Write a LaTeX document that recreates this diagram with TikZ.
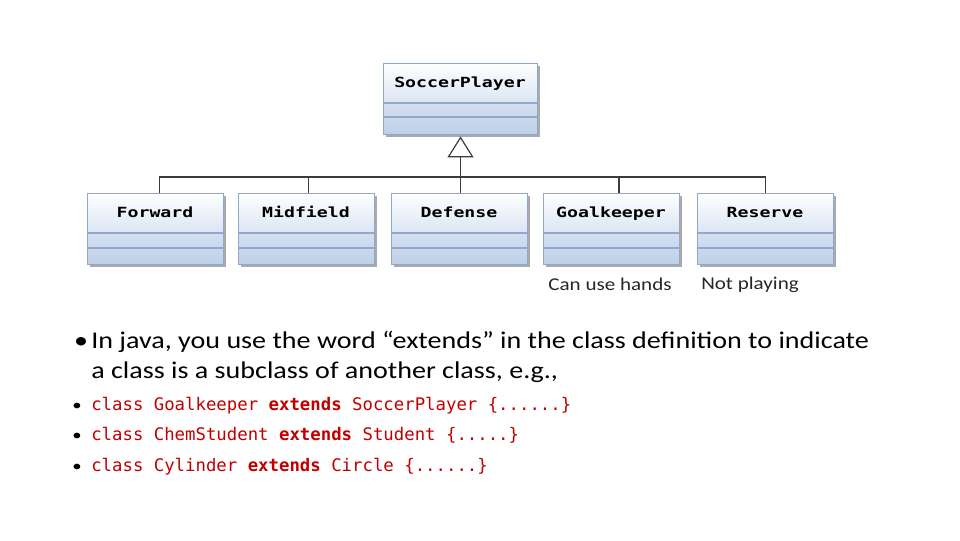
\documentclass[tikz,border=0pt]{standalone}
\usepackage{fontspec}
\setmainfont{Carlito}[FakeStretch=1.17]
\newfontfamily\boxfont{DejaVu Sans Mono}[FakeStretch=1.3]
\newfontfamily\codefont{DejaVu Sans Mono}
\usetikzlibrary{arrows.meta}
\definecolor{umlborder}{RGB}{145,168,204}
\definecolor{umltop}{RGB}{218,229,243}
\definecolor{umlmid}{RGB}{212,224,240}
\definecolor{umllow}{RGB}{190,208,233}
\definecolor{shadowc}{RGB}{170,170,170}
\definecolor{codered}{RGB}{192,0,0}
\definecolor{connc}{RGB}{60,60,60}
\tikzset{
  classbox/.style={draw=umlborder, line width=0.8pt, inner sep=0pt, minimum height=53.25pt, rectangle},
  classname/.style={font=\boxfont\bfseries\fontsize{10.5pt}{12pt}\selectfont, text=black, inner sep=0pt, anchor=base},
  conn/.style={draw=connc, line width=1.1pt},
  note/.style={font=\fontsize{13.5pt}{16pt}\selectfont, text=black!85, inner sep=0pt, anchor=base},
  bodytext/.style={font=\fontsize{18pt}{22pt}\selectfont, inner sep=0pt, anchor=base west},
  codeline/.style={font=\codefont\fontsize{13pt}{15pt}\selectfont, text=codered, inner sep=0pt, anchor=base west},
  smallbullet/.style={font=\fontsize{12pt}{14pt}\selectfont, inner sep=0pt, anchor=base},
}
\newcommand\umlclass[6]{%
  \fill[shadowc] ({#2+3},{#3+3}) rectangle ({#2+#4+3},{#3+74});
  \shade[top color=white, bottom color=umltop] (#2,#3) rectangle ({#2+#4},{#3+40});
  \shade[top color=umlmid, bottom color=umllow] (#2,{#3+40}) rectangle ({#2+#4},{#3+71});
  \draw[umlborder, line width=0.8pt] (#2,{#3+40}) -- ++(#4,0) (#2,{#3+#6}) -- ++(#4,0);
  \node[classbox, minimum width=#4*0.75pt, anchor=north west] (#1) at (#2,#3) {};
  \node[classname] (#1t) at ({#2+#4/2},{#3+24}) {#5};
}
\begin{document}
\begin{tikzpicture}[x=0.75pt, y=-0.75pt]
\useasboundingbox (0,0) rectangle (960,540);
\umlclass{soccer}{383}{63}{154}{SoccerPlayer}{54}
\umlclass{forward}{87}{193}{136}{Forward}{55}
\umlclass{midfield}{238}{193}{136}{Midfield}{55}
\umlclass{defense}{391}{193}{136}{Defense}{55}
\umlclass{goalkeeper}{543}{193}{136}{Goalkeeper}{55}
\umlclass{reserve}{697}{193}{136}{Reserve}{55}
\coordinate (bus) at (460,177);
\draw[conn] ([xshift=3pt]forward.north) -- ([xshift=3pt]forward.north |- bus) -- (reserve.north |- bus) -- (reserve.north);
\draw[conn] ([xshift=1.5pt]midfield.north) -- ([xshift=1.5pt]midfield.north |- bus);
\draw[conn] ([xshift=5.6pt]goalkeeper.north) -- ([xshift=5.6pt]goalkeeper.north |- bus);
\draw[conn, -{Triangle[open, length=15.75pt, width=19.5pt, line width=0.9pt]}] (soccer.south |- defense.north) -- ([yshift=-1pt]soccer.south);
\node[note] (hands) at (610,290) {Can use hands};
\node[note] (notplaying) at (750,289) {Not playing};
\node[bodytext, anchor=base] (b0) at (81,348) {•};
\node[bodytext] (l1) at (91,348) {In java, you use the word “extends” in the class definition to indicate};
\node[bodytext] (l2) at (91,378) {a class is a subclass of another class, e.g.,};
\node[smallbullet] (b1) at (77,410) {•};
\node[codeline] (c1) at (91,410) {class Goalkeeper \textbf{extends} SoccerPlayer \{......\}};
\node[smallbullet] (b2) at (77,440) {•};
\node[codeline] (c2) at (91,440) {class ChemStudent \textbf{extends} Student \{.....\}};
\node[smallbullet] (b3) at (77,471) {•};
\node[codeline] (c3) at (91,471) {class Cylinder \textbf{extends} Circle \{......\}};
\end{tikzpicture}
\end{document}
